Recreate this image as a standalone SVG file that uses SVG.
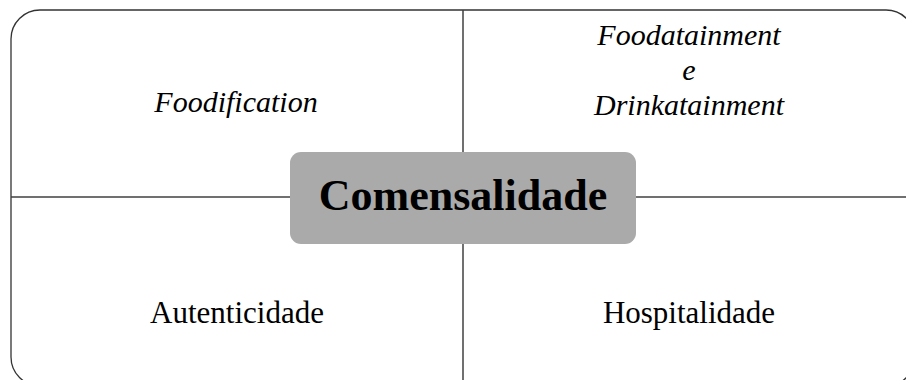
<svg xmlns="http://www.w3.org/2000/svg" width="906" height="380" viewBox="0 0 906 380">
<style>
.frame{fill:none;stroke:#333;stroke-width:1.3}
.line{stroke:#404040;stroke-width:1.5}
.t{font-family:"Liberation Serif","Times New Roman",serif;font-size:31px;fill:#000;text-anchor:middle}
.i{font-family:"Liberation Serif","DejaVu Serif","Times New Roman",serif;font-style:italic;font-size:30px}
.hub{font-family:"Liberation Serif","Times New Roman",serif;font-size:44px;font-weight:bold;fill:#000;text-anchor:middle}
</style>
<rect class="frame" x="11" y="10" width="904" height="376" rx="29" ry="29"/>
<g id="connectors">
<line class="line" x1="463" y1="10" x2="463" y2="386"/>
<line class="line" x1="11" y1="197" x2="915" y2="197"/>
</g>
<g id="foodification"><text class="t i" x="236" y="112">Foodification</text></g>
<g id="foodatainment">
<text class="t i" x="689" y="45">Foodatainment</text>
<text class="t i" x="689" y="80">e</text>
<text class="t i" x="689" y="115">Drinkatainment</text>
</g>
<g id="autenticidade"><text class="t" x="237" y="323">Autenticidade</text></g>
<g id="hospitalidade"><text class="t" x="689" y="323">Hospitalidade</text></g>
<g id="comensalidade">
<rect x="290" y="152" width="346" height="92" rx="11" ry="11" fill="#aaaaaa"/>
<text class="hub" x="463" y="210">Comensalidade</text>
</g>
</svg>
